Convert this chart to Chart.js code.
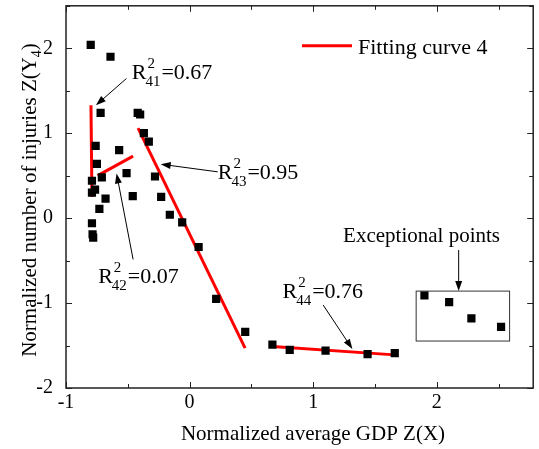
<!DOCTYPE html>
<html>
<head>
  <meta charset="utf-8">
  <title>Fitting curve 4</title>
  <script src="https://cdn.jsdelivr.net/npm/chart.js"></script>
  <style>
    body { margin: 0; padding: 0; background: #fff; }
    canvas { display: block; }
  </style>
</head>
<body>
  <canvas id="myChart" width="539" height="449"></canvas>

  <script>
    // points
    const gdpX      = [-0.80, -0.64, -0.72, -0.42, -0.40, -0.37, -0.33, -0.76, -0.57, -0.75, -0.51,
                       -0.71, -0.28, -0.79, -0.79, -0.765, -0.68, -0.46, -0.23, -0.73, -0.16, -0.06,
                       -0.79, -0.785, -0.78, 0.073, 0.215, 0.45, 0.67, 0.81, 1.10, 1.44, 1.66];
    const injuriesY = [2.04, 1.90, 1.24, 1.24, 1.22, 1.00, 0.90, 0.85, 0.80, 0.64, 0.53,
                       0.48, 0.49, 0.44, 0.30, 0.335, 0.23, 0.26, 0.25, 0.11, 0.04, -0.05,
                       -0.06, -0.19, -0.23, -0.34, -0.95, -1.34, -1.49, -1.55, -1.56, -1.60, -1.59];
    const exceptX   = [1.90, 2.10, 2.28, 2.52];
    const exceptY   = [-0.91, -0.99, -1.18, -1.28];

    // fitted segments
    const fit41X = [-0.798, -0.790], fit41Y = [1.33, 0.25];
    const fit42X = [-0.744, -0.457], fit42Y = [0.50, 0.73];
    const fit43X = [-0.417, 0.449],  fit43Y = [1.06, -1.53];
    const fit44X = [0.672, 1.659],   fit44Y = [-1.51, -1.61];

    const xTicks = [-1, 0, 1, 2];
    const yTicks = [-2, -1, 0, 1, 2];

    const serif = "'Liberation Serif', 'Times New Roman', serif";

    // R^2 labels: text anchor and arrow, in data units
    const notes = [
      { sub: '41', val: '0.67', tx: -0.468, ty: 1.635, arrow: [-0.511, 1.644, -0.758, 1.329] },
      { sub: '42', val: '0.07', tx: -0.740, ty: -0.768, arrow: [-0.457, -0.486, -0.591, 0.526] },
      { sub: '43', val: '0.95', tx: 0.228, ty: 0.455, arrow: [0.228, 0.545, -0.234, 0.635] },
      { sub: '44', val: '0.76', tx: 0.752, ty: -0.945, arrow: [1.081, -1.024, 1.317, -1.541] }
    ];
    const exceptNote = { text: 'Exceptional points', tx: 1.242, ty: -0.279,
                         arrow: [2.177, -0.376, 2.177, -0.859], box: [1.833, -0.859, 2.589, -1.447] };

    const pts = (xs, ys) => xs.map((x, i) => ({ x: x, y: ys[i] }));

    function arrow(ctx, x1, y1, x2, y2) {
      const a = Math.atan2(y2 - y1, x2 - x1);
      ctx.beginPath();
      ctx.moveTo(x1, y1);
      ctx.lineTo(x2 - 8 * Math.cos(a), y2 - 8 * Math.sin(a));
      ctx.stroke();
      ctx.beginPath();
      ctx.moveTo(x2, y2);
      ctx.lineTo(x2 - 10 * Math.cos(a) + 3.5 * Math.sin(a), y2 - 10 * Math.sin(a) - 3.5 * Math.cos(a));
      ctx.lineTo(x2 - 10 * Math.cos(a) - 3.5 * Math.sin(a), y2 - 10 * Math.sin(a) + 3.5 * Math.cos(a));
      ctx.closePath();
      ctx.fill();
    }

    const decor = {
      id: 'decor',
      afterDraw(chart) {
        const ctx = chart.ctx, a = chart.chartArea;
        const xs = chart.scales.x, ys = chart.scales.y;
        ctx.save();
        ctx.strokeStyle = '#222';
        ctx.fillStyle = '#000';

        // frame
        ctx.lineWidth = 1.5;
        ctx.strokeRect(a.left, a.top, a.right - a.left, a.bottom - a.top);

        // inward ticks on all four sides
        ctx.lineWidth = 1;
        ctx.beginPath();
        for (let v = -1; v <= 2.75; v += 0.5) {
          const px = Math.round(xs.getPixelForValue(v)) + 0.5;
          const len = Number.isInteger(v) ? 6 : 4;
          ctx.moveTo(px, a.bottom); ctx.lineTo(px, a.bottom - len);
          ctx.moveTo(px, a.top); ctx.lineTo(px, a.top + len);
        }
        for (let v = -2; v <= 2.5; v += 0.5) {
          const py = Math.round(ys.getPixelForValue(v)) + 0.5;
          const len = Number.isInteger(v) ? 6 : 4;
          ctx.moveTo(a.left, py); ctx.lineTo(a.left + len, py);
          ctx.moveTo(a.right, py); ctx.lineTo(a.right - len, py);
        }
        ctx.stroke();

        // axis titles
        ctx.font = '21px ' + serif;
        ctx.textAlign = 'center';
        ctx.textBaseline = 'alphabetic';
        ctx.fillText('Normalized average GDP Z(X)', 313, 440);

        ctx.save();
        ctx.translate(36, 200);
        ctx.rotate(-Math.PI / 2);
        const t1 = 'Normalized number of injuries Z(Y';
        ctx.font = '21px ' + serif;
        const w1 = ctx.measureText(t1).width, w3 = ctx.measureText(')').width;
        ctx.font = '14px ' + serif;
        const w2 = ctx.measureText('4').width;
        let sx = -(w1 + w2 + w3) / 2;
        ctx.textAlign = 'left';
        ctx.font = '21px ' + serif;
        ctx.fillText(t1, sx, 0);
        ctx.font = '14px ' + serif;
        ctx.fillText('4', sx + w1, 5);
        ctx.font = '21px ' + serif;
        ctx.fillText(')', sx + w1 + w2, 0);
        ctx.restore();

        // legend
        const ds = chart.data.datasets[2];
        ctx.strokeStyle = ds.borderColor;
        ctx.lineWidth = 3;
        ctx.beginPath();
        ctx.moveTo(a.left + 236, a.top + 40);
        ctx.lineTo(a.left + 286, a.top + 40);
        ctx.stroke();
        ctx.font = '22px ' + serif;
        ctx.textAlign = 'left';
        ctx.fillText(ds.label, a.left + 292, a.top + 48);

        // R^2 annotations
        ctx.strokeStyle = '#000';
        ctx.lineWidth = 1;
        notes.forEach(n => {
          const x = xs.getPixelForValue(n.tx), y = ys.getPixelForValue(n.ty);
          ctx.font = '22px ' + serif;
          ctx.fillText('R', x, y);
          const wr = ctx.measureText('R').width;
          ctx.font = '15px ' + serif;
          ctx.fillText('2', x + wr + 1, y - 11);
          ctx.fillText(n.sub, x + wr - 1, y + 7);
          const ws = ctx.measureText(n.sub).width;
          ctx.font = '22px ' + serif;
          ctx.fillText('=' + n.val, x + wr + ws, y);
          const ar = n.arrow;
          arrow(ctx, xs.getPixelForValue(ar[0]), ys.getPixelForValue(ar[1]),
                     xs.getPixelForValue(ar[2]), ys.getPixelForValue(ar[3]));
        });

        // exceptional points box
        const e = exceptNote;
        ctx.font = '21px ' + serif;
        ctx.fillText(e.text, xs.getPixelForValue(e.tx), ys.getPixelForValue(e.ty));
        arrow(ctx, xs.getPixelForValue(e.arrow[0]), ys.getPixelForValue(e.arrow[1]),
                   xs.getPixelForValue(e.arrow[2]), ys.getPixelForValue(e.arrow[3]));
        const bx1 = xs.getPixelForValue(e.box[0]), by1 = ys.getPixelForValue(e.box[1]);
        const bx2 = xs.getPixelForValue(e.box[2]), by2 = ys.getPixelForValue(e.box[3]);
        ctx.strokeStyle = '#333';
        ctx.strokeRect(bx1, by1, bx2 - bx1, by2 - by1);
        ctx.restore();
      }
    };

    const fitStyle = { type: 'line', borderColor: '#ff0000', borderWidth: 3, pointRadius: 0, fill: false, tension: 0 };
    const dotStyle = { pointStyle: 'rect', pointRadius: 5.8, backgroundColor: '#000', borderColor: '#000', borderWidth: 0 };

    const ctx = document.getElementById('myChart').getContext('2d');
    new Chart(ctx, {
      type: 'scatter',
      data: {
        datasets: [
          Object.assign({ label: 'Data', data: pts(gdpX, injuriesY) }, dotStyle),
          Object.assign({ label: 'Exceptional points', data: pts(exceptX, exceptY) }, dotStyle),
          Object.assign({ label: 'Fitting curve 4', data: pts(fit41X, fit41Y) }, fitStyle),
          Object.assign({ label: 'fit 42', data: pts(fit42X, fit42Y) }, fitStyle),
          Object.assign({ label: 'fit 43', data: pts(fit43X, fit43Y) }, fitStyle),
          Object.assign({ label: 'fit 44', data: pts(fit44X, fit44Y) }, fitStyle)
        ]
      },
      options: {
        responsive: false,
        animation: false,
        layout: { padding: { left: 0, right: 4, top: 5, bottom: 0 } },
        plugins: { legend: { display: false }, tooltip: { enabled: false } },
        scales: {
          x: {
            type: 'linear',
            min: -1,
            max: 2.78,
            afterBuildTicks: s => { s.ticks = xTicks.map(v => ({ value: v })); },
            afterFit: s => { s.height = 61; s.paddingLeft = 0; s.paddingRight = 0; },
            grid: { display: false, drawTicks: false },
            border: { display: false },
            ticks: { color: '#000', padding: 3, maxRotation: 0, font: { family: serif, size: 20 } }
          },
          y: {
            type: 'linear',
            min: -2,
            max: 2.5,
            afterBuildTicks: s => { s.ticks = yTicks.map(v => ({ value: v })); },
            afterFit: s => { s.width = 66; s.paddingTop = 0; s.paddingBottom = 0; },
            grid: { display: false, drawTicks: false },
            border: { display: false },
            ticks: { color: '#000', padding: 13, font: { family: serif, size: 20 } }
          }
        }
      },
      plugins: [decor]
    });
  </script>
</body>
</html>
